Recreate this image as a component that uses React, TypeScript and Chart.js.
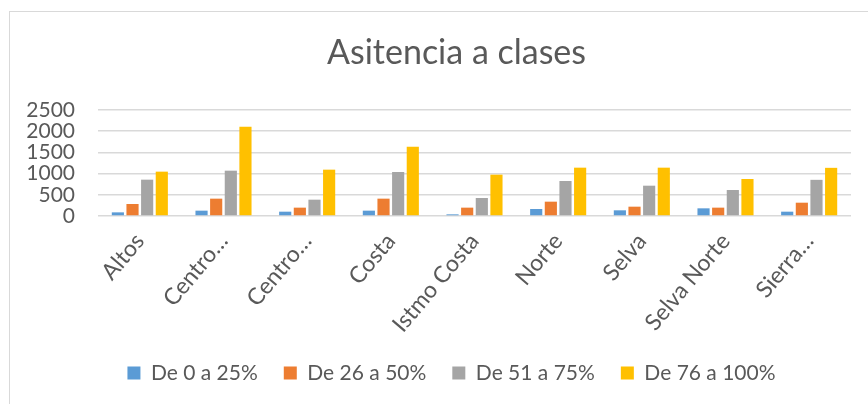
import React, { useEffect, useRef } from "react";
import { Chart, registerables } from "chart.js";

Chart.register(...registerables);

const categories = ["Altos", "Centro…", "Centro…", "Costa", "Istmo Costa", "Norte", "Selva", "Selva Norte", "Sierra…"];
const seriesNames = ["De 0 a 25%", "De 26 a 50%", "De 51 a 75%", "De 76 a 100%"];
const s0to25 = [86, 126, 102, 126, 39, 165, 134, 181, 102];
const s26to50 = [283, 409, 197, 409, 197, 338, 220, 197, 314];
const s51to75 = [857, 1069, 385, 1038, 425, 825, 715, 613, 853];
const s76to100 = [1046, 2107, 1093, 1635, 975, 1140, 1140, 873, 1136];
const colors = ["#5B9BD5", "#ED7D31", "#A5A5A5", "#FFC000"];
const yTicks = [0, 500, 1000, 1500, 2000, 2500];

const FONT = "Lato";
const TEXT = "#595959";

const shiftBlocks = {
  id: "shiftBlocks",
  afterLayout(chart: any) {
    const t = chart.titleBlock;
    if (t) {
      t.left += 21;
      t.right += 21;
    }
    const l = chart.legend;
    if (l) {
      l.left += 16;
      l.right += 16;
    }
  },
};

export default function App() {
  const ref = useRef<HTMLCanvasElement>(null);
  useEffect(() => {
    const values = [s0to25, s26to50, s51to75, s76to100];
    const chart = new Chart(ref.current!, {
      type: "bar",
      data: {
        labels: categories,
        datasets: values.map((v, i) => ({
          label: seriesNames[i],
          data: v,
          backgroundColor: colors[i],
          borderWidth: 0,
          categoryPercentage: 0.7,
          barPercentage: 0.83,
        })),
      },
      options: {
        animation: false,
        responsive: false,
        maintainAspectRatio: false,
        layout: { padding: { left: 20, right: 17, top: 0, bottom: 10.5 } },
        plugins: {
          title: {
            display: true,
            text: "Asitencia a clases",
            color: TEXT,
            font: { family: FONT, size: 34, weight: "normal" as any },
            padding: { top: 33, bottom: 36.2 },
          },
          legend: {
            position: "bottom",
            labels: {
              boxWidth: 13,
              boxHeight: 13,
              color: TEXT,
              font: { family: FONT, size: 21 },
              padding: 26,
            },
          },
          tooltip: { enabled: false },
        },
        scales: {
          x: {
            grid: { display: false, drawTicks: false },
            border: { display: false },
            ticks: {
              color: TEXT,
              font: { family: FONT, size: 23 },
              maxRotation: 50,
              minRotation: 50,
              autoSkip: false,
              padding: 12,
            },
            afterFit: (s: any) => {
              s.height = 120.5;
            },
          },
          y: {
            min: 0,
            max: 2500,
            afterBuildTicks: (s: any) => {
              s.ticks = yTicks.map((v) => ({ value: v }));
            },
            ticks: {
              color: TEXT,
              font: { family: FONT, size: 21 },
              padding: 23,
              autoSkip: false,
              callback: (v: any) => String(v),
            },
            grid: { color: "#D9D9D9", lineWidth: 1.5, drawTicks: false },
            border: { display: false },
            afterFit: (s: any) => {
              s.width = 78;
            },
          },
        },
      },
      plugins: [shiftBlocks],
    });
    return () => chart.destroy();
  }, []);

  return (
    <div style={{ position: "fixed", left: 0, top: 0, width: 868, height: 404, background: "#fff", overflow: "hidden" }}>
      <div
        style={{
          position: "absolute",
          left: 9,
          top: 11,
          width: 900,
          height: 430,
          border: "1px solid #D9D9D9",
          boxSizing: "border-box",
        }}
      />
      <canvas ref={ref} width={868} height={404} style={{ position: "absolute", left: 0, top: 0, width: 868, height: 404 }} />
    </div>
  );
}
